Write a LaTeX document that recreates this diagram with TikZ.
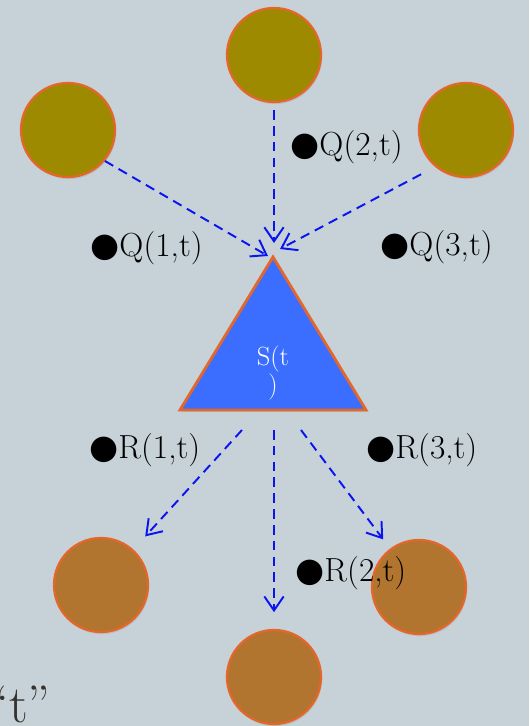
\documentclass[tikz,border=0pt]{standalone}
\usepackage{fontspec}
\newfontfamily\symfont{DejaVu Sans}
\usetikzlibrary{arrows.meta,positioning,shadows}
\definecolor{slide}{HTML}{C6D1D8}
\definecolor{olivefill}{HTML}{9E8A00}
\definecolor{brownfill}{HTML}{B1752F}
\definecolor{rim}{HTML}{E3672A}
\definecolor{serverfill}{HTML}{3B6EFF}
\definecolor{ink}{HTML}{35312B}
\definecolor{flowblue}{HTML}{0A14F0}
\tikzset{>={Straight Barb[length=8pt,width=11pt]}}
\tikzset{sender/.style={circle, draw=rim, line width=1.3pt, fill=olivefill,
    minimum size=1.88cm, inner sep=0pt,
    drop shadow={opacity=0.2, shadow xshift=0.6pt, shadow yshift=-1.2pt}}}
\tikzset{receiver/.style={sender, fill=brownfill}}
\tikzset{server/.style={draw=rim, line width=1.6pt, fill=serverfill, line join=miter,
    drop shadow={opacity=0.2, shadow xshift=0.6pt, shadow yshift=-1.2pt}}}
\tikzset{flow/.style={->, flowblue, line width=1.1pt, dash pattern=on 5.5pt off 3.5pt}}
\tikzset{lbl/.style={anchor=west, inner sep=0pt, font=\fontsize{19}{21}\selectfont}}
\newcommand{\dotlabel}[1]{{\symfont ●}#1}

\begin{document}
\begin{tikzpicture}[x=0.02cm,y=-0.02cm]
  \fill[slide] (0,0) rectangle (529,726);
  \useasboundingbox (0,0) rectangle (529,726);
  \clip (0,0) rectangle (529,726);
  % sources
  \node[sender] (q1) at (68,130) {};
  \node[sender] (q2) at (274,55) {};
  \node[sender] (q3) at (466,130) {};
  % sinks
  \node[receiver] (r1) at (101,585) {};
  \node[receiver] (r2) at (274,677) {};
  \node[receiver] (r3) at (419,587) {};
  % server
  \draw[server] (273,257) coordinate (apex) -- (366,410) coordinate (br)
    -- (180,410) coordinate (bl) -- cycle;
  \node[white, align=center, inner sep=0pt,
    font=\fontsize{15}{16}\selectfont] (s) at (273,373) {S(t\\)};
  % arrivals
  \coordinate (in1) at (268,256);
  \coordinate (in2) at (274,243);
  \coordinate (in3) at (280,249);
  \draw[flow] (q1.-40) -- (in1);
  \draw[flow, shorten <=4pt] (q2) -- (in2);
  \draw[flow, shorten <=9pt] (q3.-130) -- (in3);
  % departures
  \coordinate (o1) at (242,430);
  \coordinate (o2) at (274,430);
  \coordinate (o3) at (301,430);
  \draw[flow, shorten >=10pt] (o1) -- (r1);
  \draw[flow, shorten >=9.5pt] (o2) -- (r2);
  \draw[flow, shorten >=6.5pt] (o3) -- (r3);
  % rates
  \node[lbl] (lq1) at (90,248) {\dotlabel{Q(1,t)}};
  \node[lbl] (lq2) at (290,147) {\dotlabel{Q(2,t)}};
  \node[lbl] (lq3) at (380,247) {\dotlabel{Q(3,t)}};
  \node[lbl] (lr1) at (89,450) {\dotlabel{R(1,t)}};
  \node[lbl] (lr2) at (295,573) {\dotlabel{R(2,t)}};
  \node[lbl] (lr3) at (366,450) {\dotlabel{R(3,t)}};
  \node[anchor=base west, inner sep=0pt, text=ink,
    font=\fontsize{30}{32}\selectfont] (tq) at (-14,722) {``t''};
\end{tikzpicture}
\end{document}
